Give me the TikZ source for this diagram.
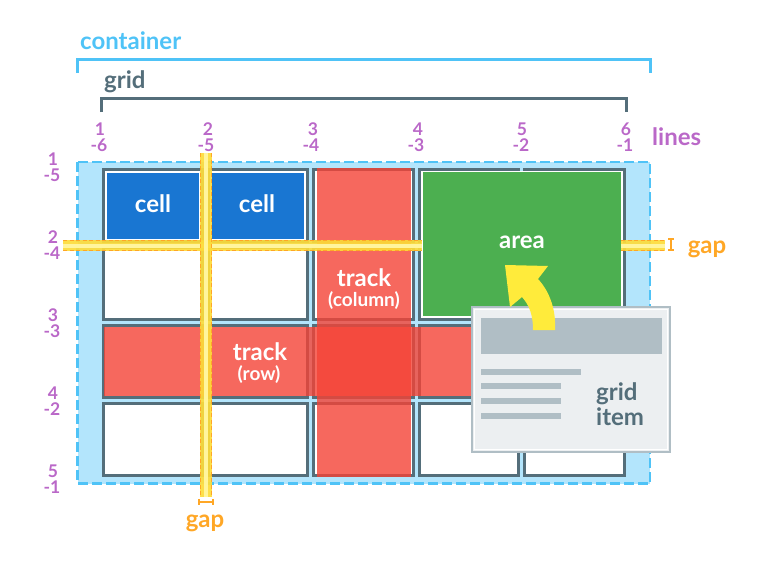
\documentclass[tikz,border=0pt]{standalone}
\usepackage{fontspec}
\setmainfont{Lato}
\definecolor{contc}{HTML}{4FC3F7}
\definecolor{contfill}{HTML}{B3E5FC}
\definecolor{gridc}{HTML}{546E7A}
\definecolor{purp}{HTML}{BA68C8}
\definecolor{orng}{HTML}{FFA726}
\definecolor{bandyel}{HTML}{FDDC3A}
\definecolor{bandlt}{HTML}{FFF59D}
\definecolor{cellblue}{HTML}{1976D2}
\definecolor{trackc}{HTML}{F44336}
\definecolor{areagreen}{HTML}{4CAF50}
\definecolor{cardfill}{HTML}{ECEFF1}
\definecolor{cardgray}{HTML}{B0BEC5}
\definecolor{arrowyel}{HTML}{FFEB3B}
\begin{document}
\begin{tikzpicture}[x=1pt,y=-1pt,
  cellbox/.style={draw=gridc, line width=3pt, fill=white},
  bandy/.style={fill=bandyel, opacity=0.92},
  bandl/.style={fill=bandlt},
  bandd/.style={draw=orng, line width=1.3pt, dash pattern=on 4pt off 2.5pt},
  trackfill/.style={fill=trackc, fill opacity=0.8},
  celltxt/.style={text=white, font=\fontsize{24}{24}\selectfont\bfseries, inner sep=0pt, anchor=base},
  subtxt/.style={text=white, font=\fontsize{19}{19}\selectfont\bfseries, inner sep=0pt, anchor=base},
  lbl/.style={font=\fontsize{24}{24}\selectfont\bfseries, inner sep=0pt, anchor=base west},
  num/.style={text=purp, font=\fontsize{17.5}{17.5}\selectfont\bfseries, inner sep=0pt, anchor=base},
  brk/.style={line width=3pt},
  bar/.style={fill=cardgray}
]
\useasboundingbox (0,0) rectangle (770,562);

% container
\filldraw[fill=contfill, draw=contc, line width=2.5pt, dash pattern=on 10pt off 4pt]
  (77.5,162) rectangle (650,483.5);

% cells
\foreach \i in {0,...,4}{\foreach \j in {0,...,3}{
  \pgfmathsetmacro\xa{100+105.4*\i+3}
  \pgfmathsetmacro\xb{100+105.4*(\i+1)-3}
  \pgfmathsetmacro\ya{166+78*\j+3}
  \pgfmathsetmacro\yb{166+78*(\j+1)-3}
  \draw[cellbox] (\xa,\ya) rectangle (\xb,\yb);
}}

% blue cells
\fill[cellblue] (106.5,172.5) rectangle (199,238.5);
\fill[cellblue] (211.9,172.5) rectangle (304.3,238.5);

% area
\fill[white] (420.7,170.5) rectangle (622.5,317.5);
\fill[areagreen] (422.5,172) rectangle (621,316);

% tracks
\fill[trackfill] (316.5,168) rectangle (410.5,477);
\fill[trackfill] (104,327) rectangle (624,396);

% gap bands
\fill[bandy] (63,240) rectangle (422,251);
\fill[bandl] (63,243.5) rectangle (422,247.5);
\draw[bandd] (63,240.8) -- (422,240.8);
\draw[bandd] (63,250.2) -- (422,250.2);
\fill[bandy] (621,240) rectangle (665,251);
\fill[bandl] (621,243.5) rectangle (665,247.5);
\draw[bandd] (621,240.8) -- (665,240.8);
\draw[bandd] (621,250.2) -- (665,250.2);
\fill[bandy] (200,153) rectangle (212,497);
\fill[bandl] (204,153) rectangle (208,497);
\draw[bandd] (200.8,153) -- (200.8,497);
\draw[bandd] (211.2,153) -- (211.2,497);

% gap brackets
\draw[orng, line width=1.5pt] (671,239) -- (671,250);
\draw[orng, line width=1.5pt] (668,239) -- (674,239);
\draw[orng, line width=1.5pt] (668,250) -- (674,250);
\draw[orng, line width=1.5pt] (199,502) -- (213,502);
\draw[orng, line width=1.5pt] (199,499) -- (199,505);
\draw[orng, line width=1.5pt] (213,499) -- (213,505);

% cell texts
\node[celltxt] (cellA) at (153,212.5) {cell};
\node[celltxt] (cellB) at (257,212.5) {cell};
\node[celltxt] (area) at (522,248) {area};
\node[celltxt] (trackcol) at (364,286.5) {track};
\node[subtxt] (trackcolsub) at (364,306) {(column)};
\node[celltxt] (trackrow) at (260,360) {track};
\node[subtxt] (trackrowsub) at (259,380) {(row)};

% grid item card
\draw[cardgray, line width=2.5pt, fill=cardfill] (472,307) rectangle (670,452);
\draw[white, line width=1pt] (474.5,309.5) rectangle (667.5,449.5);
\fill[bar] (481,318) rectangle (662,354);
\fill[bar] (481,369) rectangle (581,375);
\fill[bar] (481,383) rectangle (561,389);
\fill[bar] (481,398) rectangle (561,404);
\fill[bar] (481,413) rectangle (561,419);
\node[lbl, text=gridc] (gitem1) at (596,400) {grid};
\node[lbl, text=gridc] (gitem2) at (596,425) {item};

% yellow arrow
\fill[arrowyel] (505,265) -- (548,266) -- (538,279)
  .. controls (551,293) and (556,312) .. (555,330) -- (533,330)
  .. controls (533,316) and (530,306) .. (522,297) -- (510,307) -- cycle;

% brackets
\draw[brk, contc] (77,73) -- (77,59) -- (650,59) -- (650,73);
\draw[brk, gridc] (101,112) -- (101,98) -- (626,98) -- (626,112);
\node[lbl, text=contc] (container) at (80,49) {container};
\node[lbl, text=gridc] (gridlbl) at (104,88) {grid};
\node[lbl, text=purp] (lines) at (652,145) {lines};
\node[lbl, text=orng, anchor=base] (gapR) at (707,253) {gap};
\node[lbl, text=orng, anchor=base] (gapB) at (205,527) {gap};

% column numbers
\node[num] (c1a) at (100,135) {1}; \node[num] (c1b) at (99,151) {-6};
\node[num] (c2a) at (208,135) {2}; \node[num] (c2b) at (206,151) {-5};
\node[num] (c3a) at (313,135) {3}; \node[num] (c3b) at (311,151) {-4};
\node[num] (c4a) at (418,135) {4}; \node[num] (c4b) at (416,151) {-3};
\node[num] (c5a) at (522,135) {5}; \node[num] (c5b) at (521,151) {-2};
\node[num] (c6a) at (626,135) {6}; \node[num] (c6b) at (625,151) {-1};
% row numbers
\node[num] (r1a) at (53,165) {1}; \node[num] (r1b) at (52,181) {-5};
\node[num] (r2a) at (53,243) {2}; \node[num] (r2b) at (52,259) {-4};
\node[num] (r3a) at (53,321) {3}; \node[num] (r3b) at (52,337) {-3};
\node[num] (r4a) at (53,399) {4}; \node[num] (r4b) at (52,415) {-2};
\node[num] (r5a) at (53,477) {5}; \node[num] (r5b) at (52,493) {-1};
\end{tikzpicture}
\end{document}
